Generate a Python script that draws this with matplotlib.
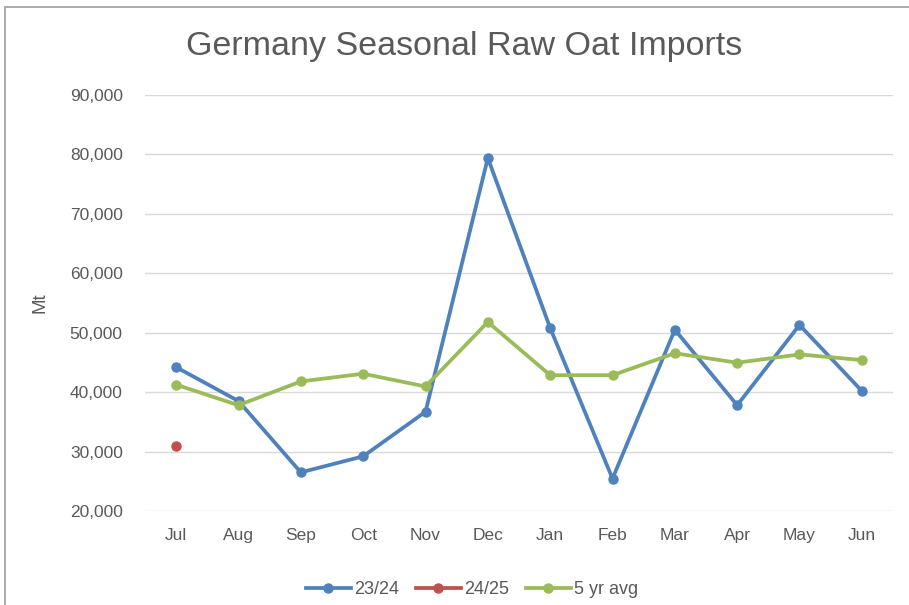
import matplotlib.pyplot as plt
from matplotlib.patches import Rectangle
from matplotlib.ticker import FuncFormatter

# data
months = ["Jul", "Aug", "Sep", "Oct", "Nov", "Dec", "Jan", "Feb", "Mar", "Apr", "May", "Jun"]
s2324 = [44200, 38500, 26500, 29200, 36700, 79400, 50800, 25450, 50500, 37800, 51300, 40200]
s2425 = [31000]
avg5 = [41250, 37800, 41800, 43100, 40950, 51800, 42850, 42850, 46550, 44950, 46350, 45400]

blue = "#4F81BD"
red = "#C0504D"
green = "#9BBB59"
txt = "#595959"

plt.rcParams['font.family'] = ['Liberation Sans', 'DejaVu Sans']

fig = plt.figure(figsize=(9.09, 6.05), dpi=100)
ax = fig.add_axes([145/909, 1 - 511/605, (893 - 145)/909, (511 - 95)/605])

x = list(range(len(months)))
ax.plot(x, s2324, color=blue, lw=2.7, marker="o", ms=6.5, label="23/24", zorder=3)
ax.plot(x[:len(s2425)], s2425, color=red, lw=2.7, marker="o", ms=6.5, label="24/25", zorder=3)
ax.plot(x, avg5, color=green, lw=2.7, marker="o", ms=6.5, label="5 yr avg", zorder=3)

ax.set_xlim(-0.5, 11.5)
ax.set_ylim(20000, 90000)
ax.set_yticks(range(20000, 90001, 10000))
ax.yaxis.set_major_formatter(FuncFormatter(lambda v, p: f"{int(v):,}"))
ax.set_xticks(x)
ax.set_xticklabels(months)
ax.grid(axis="y", color="#D9D9D9", lw=1)
ax.set_axisbelow(True)
for s in ax.spines.values():
    s.set_visible(False)
ax.tick_params(length=0, colors=txt, labelsize=12.5)
ax.tick_params(axis="y", pad=16)
ax.tick_params(axis="x", pad=12)
ax.set_ylabel("Mt", color=txt, fontsize=13.5)
ax.yaxis.set_label_coords(-(145 - 48)/748, 0.5)

fig.text(464/909, 1 - 47/605, "Germany Seasonal Raw Oat Imports", ha="center", va="center",
         fontsize=24.5, color=txt)

fig.legend(loc="center", bbox_to_anchor=(472/909, 1 - 590/605), ncol=3, frameon=False,
           fontsize=13, labelcolor=txt, handlelength=2.5, columnspacing=0.9, handletextpad=0.2)

# outer chart border
fig.patches.append(Rectangle((5/909, -0.1), 1.1, 1 - 7/605 + 0.1, transform=fig.transFigure,
                             fill=False, ec="#A0A0A0", lw=1.2))

fig.savefig("out.png", dpi=100)
